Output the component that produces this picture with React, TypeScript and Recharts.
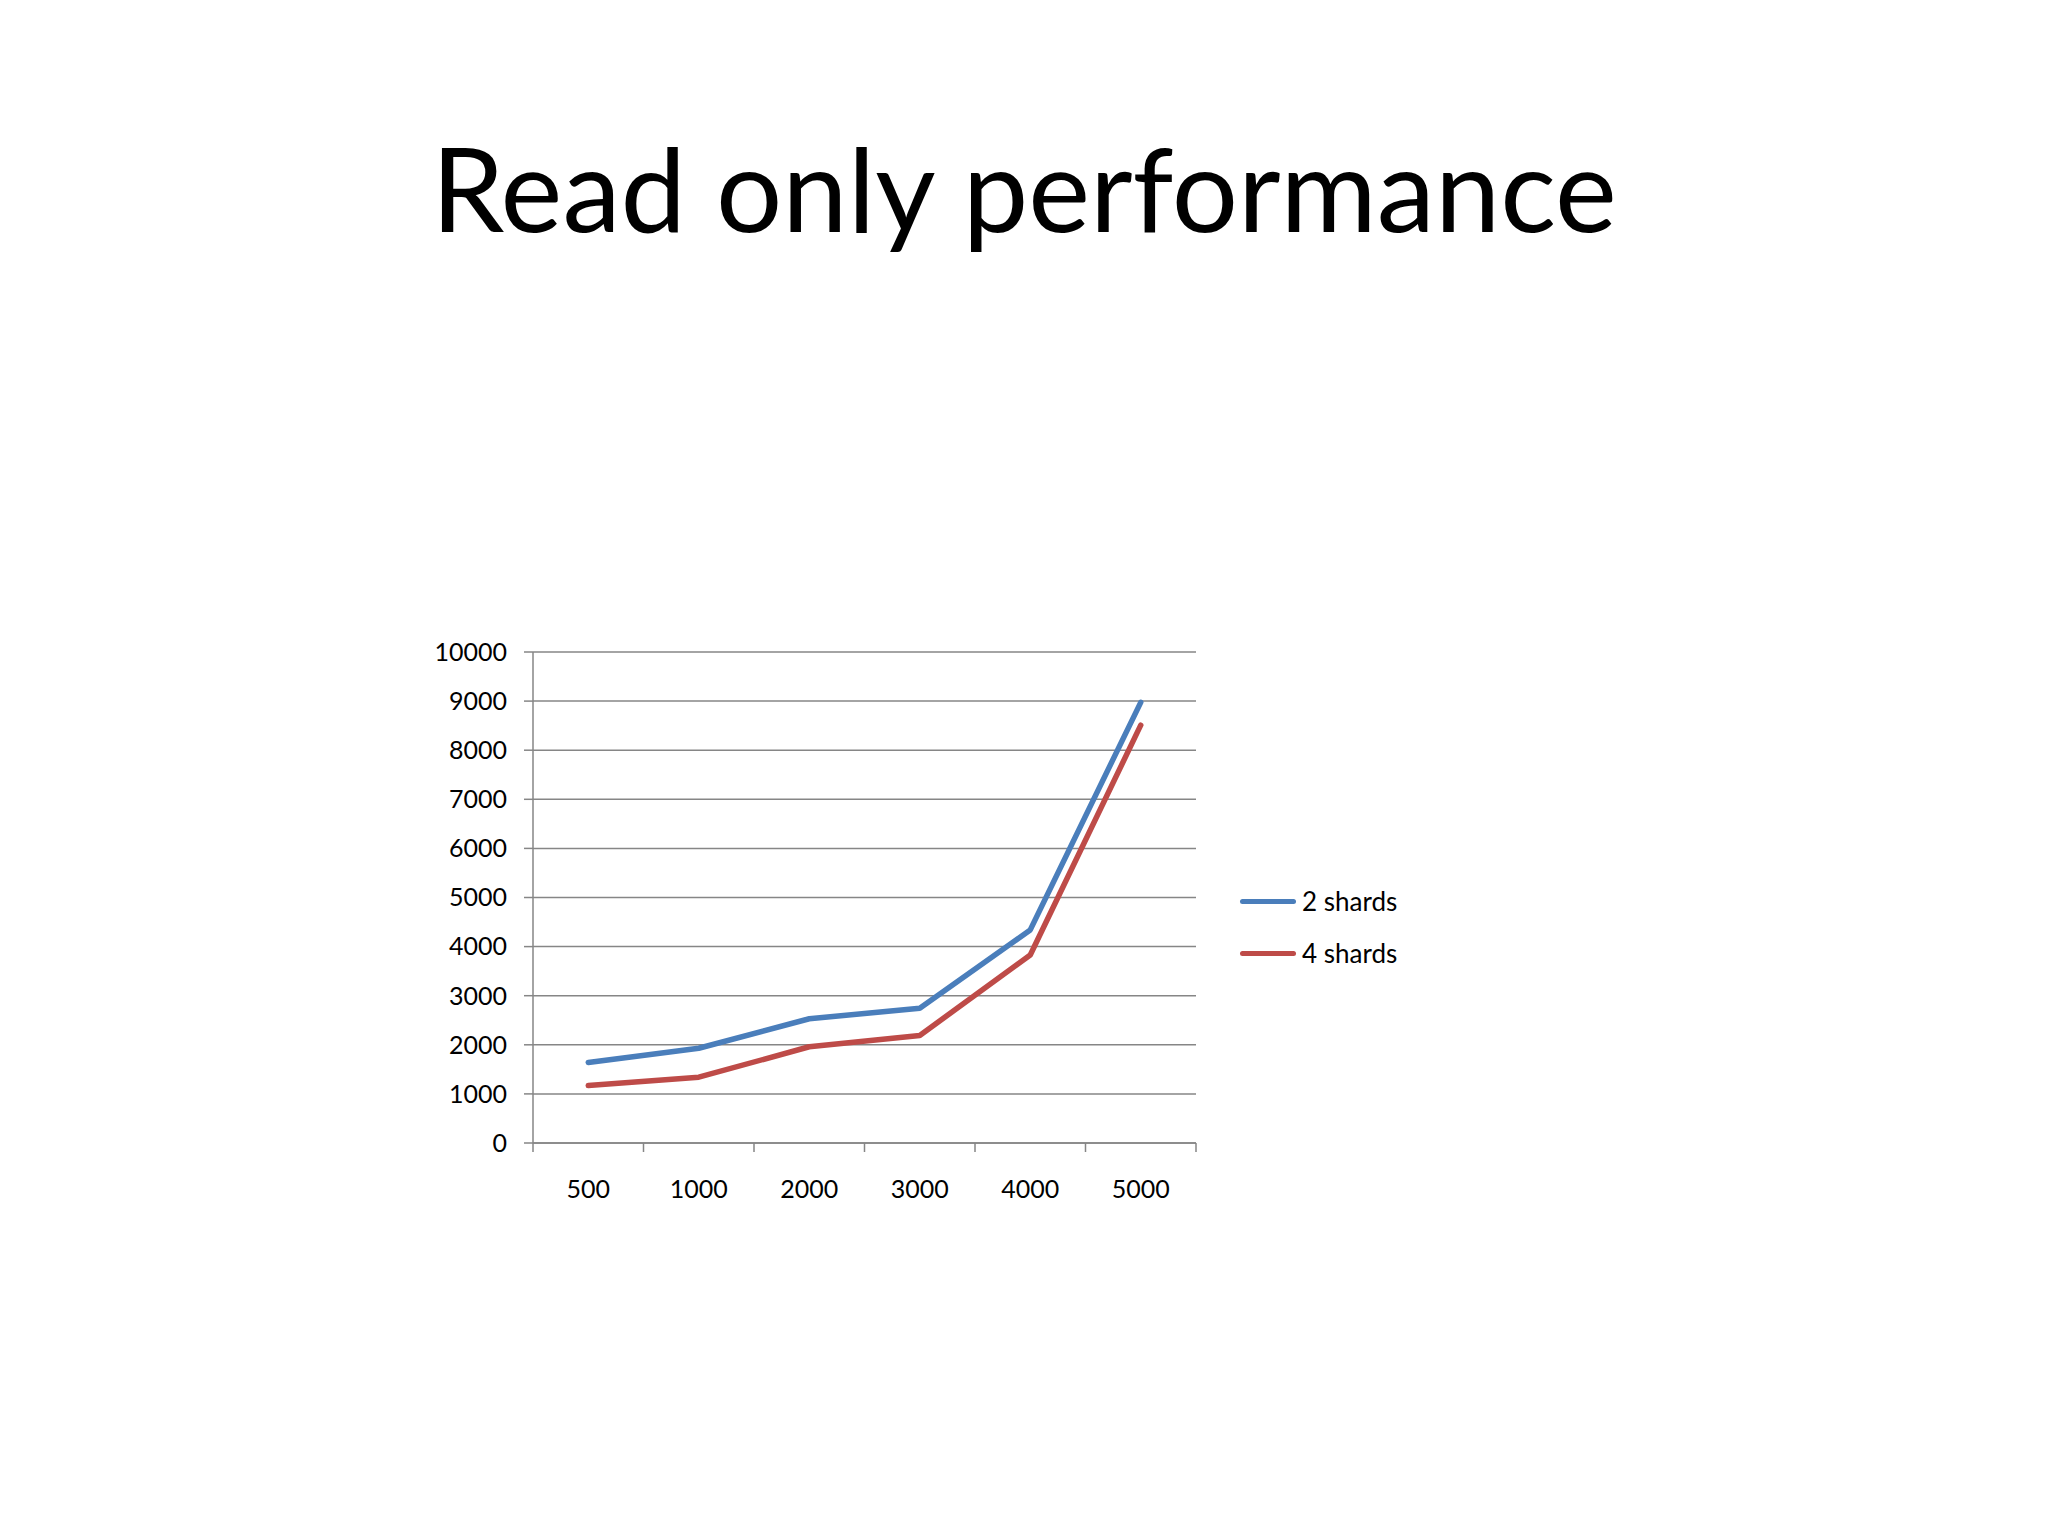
import { CartesianGrid, Legend, Line, LineChart, XAxis, YAxis } from "recharts";

const SIZES = ["500", "1000", "2000", "3000", "4000", "5000"];
const TWO_SHARDS = [1640, 1930, 2530, 2745, 4340, 8975];
const FOUR_SHARDS = [1170, 1340, 1960, 2190, 3830, 8510];
const Y_TICKS = [0, 1000, 2000, 3000, 4000, 5000, 6000, 7000, 8000, 9000, 10000];

const BLUE = "#4A7EBB";
const RED = "#BE4B48";
const GRID = "#868686";
const FONT = "Lato, 'Open Sans', sans-serif";

const CHART_W = 1100;
const CHART_H = 620;
const Y_AXIS_W = 133;
const LEGEND_W = 200;
const MARGIN = { top: 32, right: 104, left: 0, bottom: 0 };
const PLOT_W = CHART_W - Y_AXIS_W - MARGIN.right - LEGEND_W;
const BAND = PLOT_W / SIZES.length;

const data = SIZES.map((size, i) => ({
  size,
  two: TWO_SHARDS[i],
  four: FOUR_SHARDS[i],
}));

const SERIES = [
  { key: "two", name: "2 shards", color: BLUE },
  { key: "four", name: "4 shards", color: RED },
];

function SizeTick(props: { x?: number; y?: number; index?: number; payload?: { value: string } }) {
  const { x = 0, y = 0, index = 0, payload } = props;
  const half = BAND / 2;
  return (
    <g>
      {index === 0 && (
        <line x1={x - half} x2={x - half} y1={y} y2={y + 9} stroke={GRID} strokeWidth={1.5} />
      )}
      <line x1={x + half} x2={x + half} y1={y} y2={y + 9} stroke={GRID} strokeWidth={1.5} />
      <text
        x={x}
        y={y + 45}
        textAnchor="middle"
        dominantBaseline="central"
        fill="#000"
        fontSize={25}
        fontFamily={FONT}
      >
        {payload?.value}
      </text>
    </g>
  );
}

function LegendBox() {
  return (
    <div style={{ fontFamily: FONT, fontSize: 26, color: "#000" }}>
      {SERIES.map((s) => (
        <div key={s.key} style={{ display: "flex", alignItems: "center", height: 52 }}>
          <span
            style={{
              display: "inline-block",
              width: 56,
              height: 5,
              borderRadius: 3,
              background: s.color,
              marginRight: 6,
            }}
          />
          <span>{s.name}</span>
        </div>
      ))}
    </div>
  );
}

export default function App() {
  return (
    <div
      style={{
        position: "absolute",
        left: 0,
        top: 0,
        width: 2048,
        height: 1536,
        background: "#fff",
        overflow: "hidden",
      }}
    >
      <div
        style={{
          position: "absolute",
          left: 0,
          top: 129,
          width: 2048,
          textAlign: "center",
          fontFamily: FONT,
          fontSize: 117,
          lineHeight: 1,
          color: "#000",
        }}
      >
        Read only performance
      </div>
      <div style={{ position: "absolute", left: 400, top: 620 }}>
        <LineChart width={CHART_W} height={CHART_H} data={data} margin={MARGIN}>
          <CartesianGrid vertical={false} stroke={GRID} strokeWidth={1.5} />
          <XAxis
            dataKey="size"
            height={97}
            padding={{ left: BAND / 2, right: BAND / 2 }}
            axisLine={{ stroke: GRID, strokeWidth: 1.5 }}
            tickLine={false}
            tickSize={0}
            tickMargin={0}
            interval={0}
            tick={<SizeTick />}
          />
          <YAxis
            width={Y_AXIS_W}
            domain={[0, 10000]}
            ticks={Y_TICKS}
            interval={0}
            axisLine={{ stroke: GRID, strokeWidth: 1.5 }}
            tickLine={{ stroke: GRID, strokeWidth: 1.5 }}
            tickSize={9}
            tickMargin={17}
            tick={{ fill: "#000", fontSize: 25, fontFamily: FONT }}
          />
          <Legend
            layout="vertical"
            align="right"
            verticalAlign="top"
            wrapperStyle={{ left: 840, top: 255, width: LEGEND_W }}
            content={() => <LegendBox />}
          />
          {SERIES.map((s) => (
            <Line
              key={s.key}
              dataKey={s.key}
              name={s.name}
              type="linear"
              stroke={s.color}
              strokeWidth={5.5}
              strokeLinecap="round"
              strokeLinejoin="round"
              dot={false}
              activeDot={false}
              isAnimationActive={false}
            />
          ))}
        </LineChart>
      </div>
    </div>
  );
}
